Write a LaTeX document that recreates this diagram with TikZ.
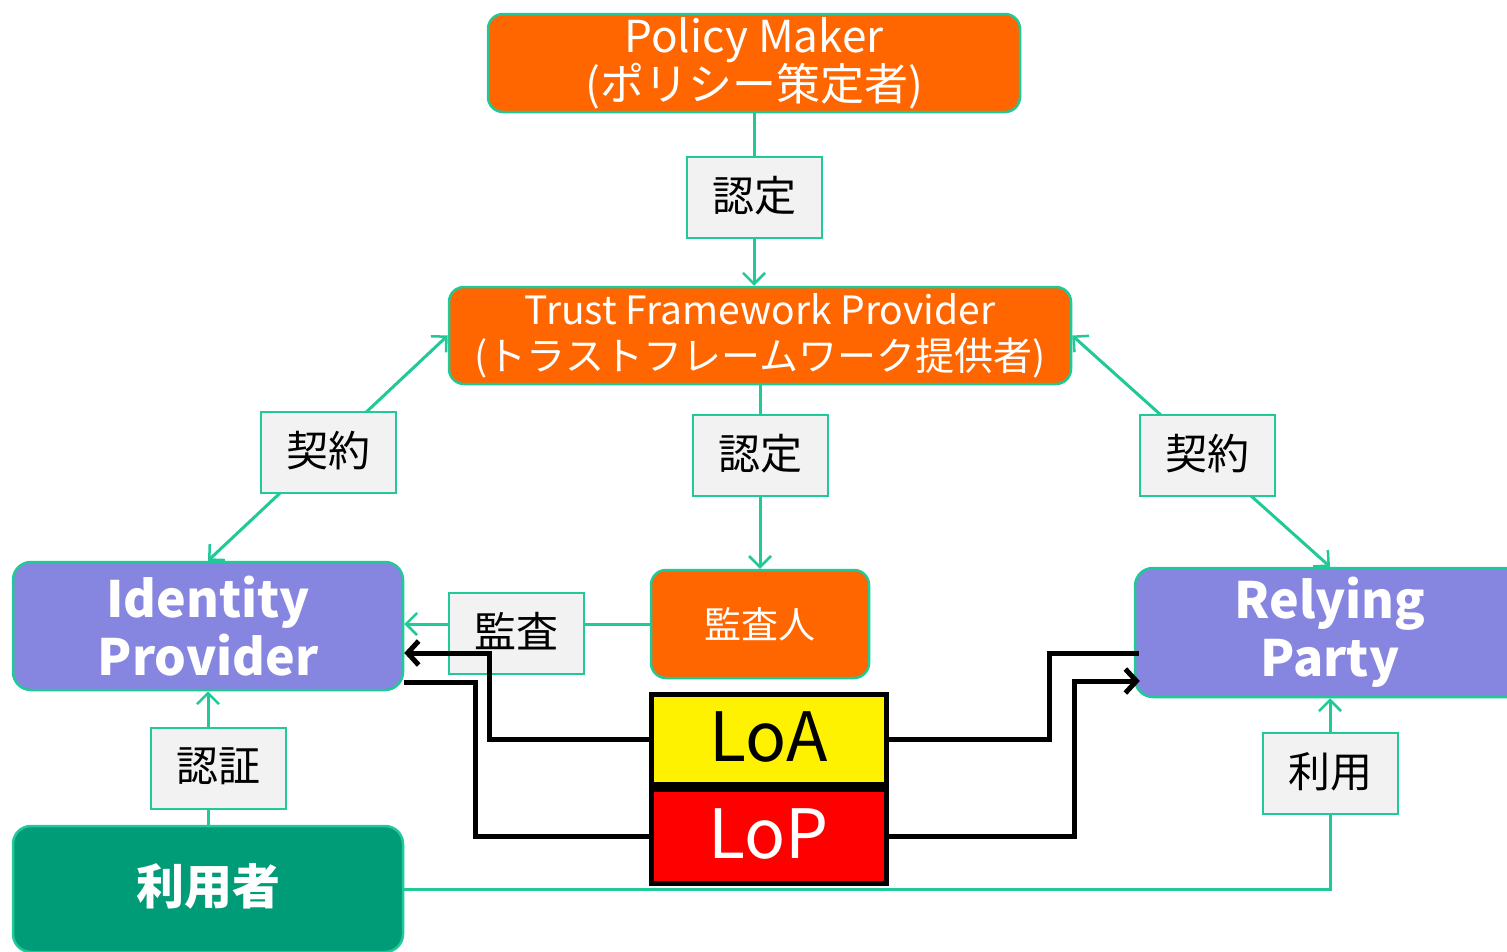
\documentclass[tikz,border=0pt]{standalone}
\usepackage{fontspec}
\setmainfont{Noto Sans CJK JP}
\usetikzlibrary{arrows.meta}

\definecolor{pmorange}{HTML}{FF6600}
\definecolor{idpurple}{HTML}{8686E0}
\definecolor{userteal}{HTML}{009B77}
\definecolor{linkgreen}{HTML}{20C997}
\definecolor{lblgray}{HTML}{F2F2F2}

\newcommand{\fs}[1]{\fontsize{#1}{\the\numexpr#1*6/5\relax}\selectfont}

\tikzset{
  orangebox/.style={draw=linkgreen, line width=2.5pt, fill=pmorange, rounded corners=15pt,
    text=white, align=center, inner sep=0pt},
  rolebox/.style={draw=linkgreen, line width=2.5pt, fill=idpurple, rounded corners=18pt,
    text=white, align=center, inner sep=0pt, font=\fs{50}\bfseries,
    minimum width=390pt},
  lblbox/.style={draw=linkgreen, line width=2pt, fill=lblgray, minimum width=135pt,
    minimum height=81pt, inner sep=0pt, font=\fs{42}},
  levelbox/.style={draw=black, line width=5pt, minimum width=235pt, inner sep=0pt, font=\fs{68}},
  link/.style={linkgreen, line width=3pt},
  lvl/.style={black, line width=5pt},
  tip/.tip={Straight Barb[length=11pt, width=22pt, line width=2.5pt]},
  btip/.tip={Straight Barb[length=11pt, width=24pt, line width=5pt]}
}

\begin{document}
\begin{tikzpicture}[x=1pt, y=-1pt]
\useasboundingbox (0,0) rectangle (1507,951);

% parties
\node[orangebox, minimum width=532pt, minimum height=98pt, font=\fs{44}] (pm) at (754,63)
  {\raisebox{3pt}{\parbox{500pt}{\centering Policy Maker\\[-5pt](ポリシー策定者)}}};
\node[orangebox, minimum width=622pt, minimum height=97pt, font=\fs{39}] (tfp) at (760,335.5)
  {Trust Framework Provider\\[-1pt](トラストフレームワーク提供者)};
\node[orangebox, minimum width=218pt, minimum height=108pt, font=\fs{37}] (audr) at (760,624) {監査人};
\node[rolebox, minimum height=128pt] (idp) at (208,626)
  {\raisebox{10pt}{\parbox{380pt}{\centering Identity\\[-2pt]Provider}}};
\node[rolebox, minimum height=129pt] (rp) at (1330,632.5)
  {\raisebox{6pt}{\parbox{380pt}{\centering Relying\\[-2pt]Party}}};
\node[rolebox, fill=userteal, minimum height=126pt, font=\fs{48}\bfseries] (user) at (208,889)
  {\raisebox{11pt}{利用者}};

% levels
\node[levelbox, fill=yellow, minimum height=90pt] (loa) at (768.5,739) {\raisebox{4pt}{LoA}};
\node[levelbox, fill=red, text=white, minimum height=94pt] (lop) at (768.5,836) {\raisebox{5pt}{LoP}};

% green links
\draw[link, -tip] (pm.south) -- (pm.south |- tfp.north);
\draw[link, -tip] (tfp.south) -- (audr.north);
\draw[link, tip-tip] (idp.north) -- (tfp.west);
\draw[link, tip-tip] (tfp.east) -- (rp.north);
\draw[link, -tip] (audr.west) -- (audr.west -| idp.east);
\draw[link, -tip] (user.east) -| (rp.south);
\draw[link, -tip] (user.north) -- (idp.south);

% labels
\node[lblbox] (cert1) at (754.5,197.5) {\raisebox{7pt}{認定}};
\node[lblbox] (cert2) at (760,455) {\raisebox{7pt}{認定}};
\node[lblbox] (contl) at (328.5,452) {\raisebox{7pt}{契約}};
\node[lblbox] (contr) at (1207.5,455) {\raisebox{7pt}{契約}};
\node[lblbox] (audit) at (516,633.5) {\raisebox{7pt}{監査}};
\node[lblbox] (authn) at (218,768) {\raisebox{7pt}{認証}};
\node[lblbox] (use) at (1330,773) {\raisebox{7pt}{利用}};

% black links
\draw[lvl, -btip] (loa.west) -- ++(-159,0) |- ([yshift=-27pt]idp.east);
\draw[lvl] ([yshift=-56pt]idp.east) -- ++(71,0) |- (lop.west);
\draw[lvl] (loa.east) -- ++(161,0) |- ([xshift=5pt, yshift=-20.5pt]rp.west);
\draw[lvl, -btip] (lop.east) -- ++(186,0) |- ([xshift=6pt, yshift=-48.5pt]rp.west);
\end{tikzpicture}
\end{document}
